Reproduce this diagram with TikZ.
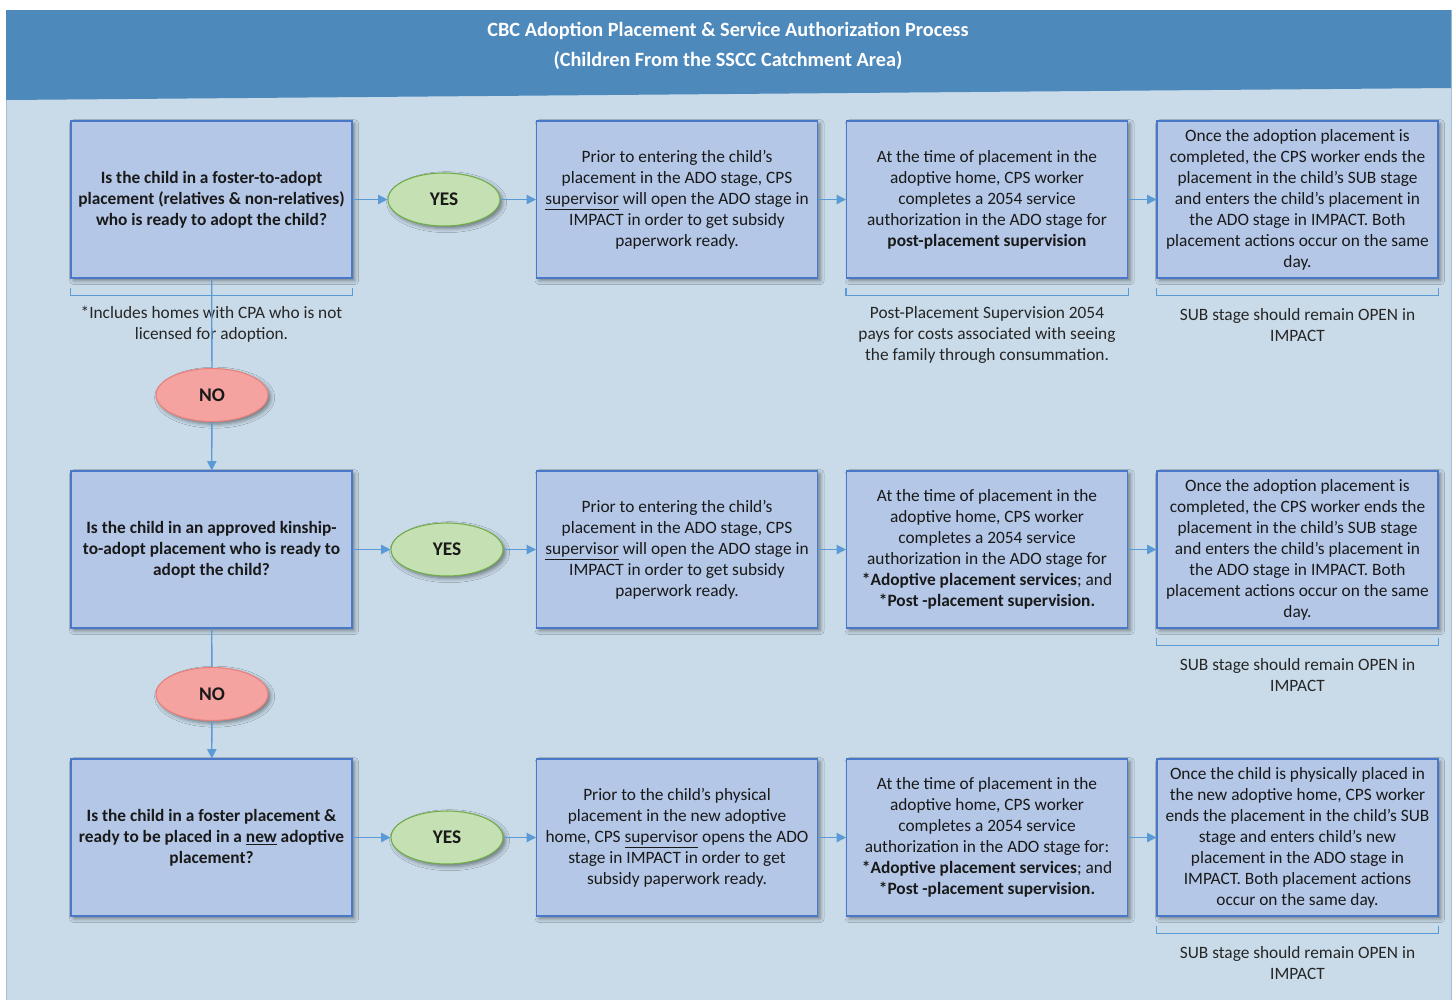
\documentclass[tikz,border=0pt]{standalone}
\usepackage{fontspec}
\setmainfont{Carlito}
\usetikzlibrary{arrows.meta,shapes.geometric,shadows.blur}

\definecolor{pagebg}{HTML}{C9DBE9}
\definecolor{pageline}{HTML}{A7BFD6}
\definecolor{headblue}{HTML}{4E89BC}
\definecolor{boxfill}{HTML}{B4C7E7}
\definecolor{boxline}{HTML}{4A78C8}
\definecolor{linkblue}{HTML}{5B9BD5}
\definecolor{yesfill}{HTML}{C5E0B3}
\definecolor{yesline}{HTML}{70AD47}
\definecolor{nofill}{HTML}{F4A3A0}
\definecolor{noline}{HTML}{E8807B}
\definecolor{notetext}{HTML}{262626}

\tikzset{
        boxshadow/.style={blur shadow={shadow xshift=2pt,shadow yshift=-2pt,shadow blur radius=3pt,shadow opacity=45}},
        stepbox/.style={draw=boxline,fill=boxfill,line width=0.8pt,minimum width=210.75pt,minimum height=117.75pt,
                inner sep=0pt,align=center,text=black!90,font=\fontsize{13}{15.75}\selectfont,boxshadow},
        askbox/.style={stepbox,font=\fontsize{13}{15.75}\selectfont\bfseries},
        answer/.style={ellipse,line width=0.8pt,minimum width=84pt,minimum height=39.75pt,inner sep=0pt,
                font=\fontsize{14.5}{16}\selectfont\bfseries,text=black!90,boxshadow},
        yesnode/.style={answer,draw=yesline,fill=yesfill},
        nonode/.style={answer,draw=noline,fill=nofill},
        link/.style={draw=linkblue,line width=1pt,-{Triangle[length=7pt,width=7pt]}},
        plainlink/.style={draw=linkblue,line width=1pt},
        bracket/.style={draw=linkblue,line width=0.8pt},
        note/.style={align=center,text=notetext,font=\fontsize{13}{15.75}\selectfont}
}

\begin{document}
\begin{tikzpicture}[x=0.75pt,y=-0.75pt]
        \useasboundingbox (0,0) rectangle (1455,1000);
        \fill[pagebg] (6,10) rectangle (1451,1000);
        \draw[pageline] (6,1000) -- (6,10) -- (1451,10) -- (1451,1000);
        \fill[headblue] (6,10) -- (1451,10) -- (1451,88) -- (6,100) -- cycle;
        \node[text=white,font=\fontsize{15.2}{22}\selectfont\bfseries,align=center] (title) at (728,46)
                {CBC Adoption Placement \& Service Authorization Process\\(Children From the SSCC Catchment Area)};

        % row 1
        \node[askbox] (q1) at (211.5,199.5) {Is the child in a foster-to-adopt\\placement (relatives \& non-relatives)\\who is ready to adopt the child?};
        \node[yesnode] (yes1) at (444,199.5) {YES};
        \node[stepbox] (open1) at (677,199.5) {Prior to entering the child’s\\placement in the ADO stage, CPS\\\underline{supervisor} will open the ADO stage in\\IMPACT in order to get subsidy\\paperwork ready.};
        \node[stepbox] (auth1) at (987,199.5) {At the time of placement in the\\adoptive home, CPS worker\\completes a 2054 service\\authorization in the ADO stage for\\\textbf{post-placement supervision}};
        \node[stepbox] (end1) at (1297.5,199.5) {Once the adoption placement is\\completed, the CPS worker ends the\\placement in the child’s SUB stage\\and enters the child’s placement in\\the ADO stage in IMPACT. Both\\placement actions occur on the same\\day.};
        \node[note] (cpa) at (211.5,324.5) {*Includes homes with CPA who is not\\licensed for adoption.};
        \node[note] (cost) at (987,335) {Post-Placement Supervision 2054\\pays for costs associated with seeing\\the family through consummation.};
        \node[note] (open1note) at (1297.5,325.5) {SUB stage should remain OPEN in\\IMPACT};
        \node[nonode] (no1) at (212,395) {NO};

        % row 2
        \node[askbox] (q2) at (211.5,549.5) {Is the child in an approved kinship-\\to-adopt placement who is ready to\\adopt the child?};
        \node[yesnode] (yes2) at (447,549.5) {YES};
        \node[stepbox] (open2) at (677,549.5) {Prior to entering the child’s\\placement in the ADO stage, CPS\\\underline{supervisor} will open the ADO stage in\\IMPACT in order to get subsidy\\paperwork ready.};
        \node[stepbox] (auth2) at (987,549.5) {At the time of placement in the\\adoptive home, CPS worker\\completes a 2054 service\\authorization in the ADO stage for\\\textbf{*Adoptive placement services}; and\\\textbf{*Post -placement supervision.}};
        \node[stepbox] (end2) at (1297.5,549.5) {Once the adoption placement is\\completed, the CPS worker ends the\\placement in the child’s SUB stage\\and enters the child’s placement in\\the ADO stage in IMPACT. Both\\placement actions occur on the same\\day.};
        \node[note] (open2note) at (1297.5,675.5) {SUB stage should remain OPEN in\\IMPACT};
        \node[nonode] (no2) at (212,694) {NO};

        % row 3
        \node[askbox] (q3) at (211.5,837.5) {Is the child in a foster placement \&\\ready to be placed in a \underline{new} adoptive\\placement?};
        \node[yesnode] (yes3) at (447,837.5) {YES};
        \node[stepbox] (open3) at (677,837.5) {Prior to the child’s physical\\placement in the new adoptive\\home, CPS \underline{supervisor} opens the ADO\\stage in IMPACT in order to get\\subsidy paperwork ready.};
        \node[stepbox] (auth3) at (987,837.5) {At the time of placement in the\\adoptive home, CPS worker\\completes a 2054 service\\authorization in the ADO stage for:\\\textbf{*Adoptive placement services}; and\\\textbf{*Post -placement supervision.}};
        \node[stepbox] (end3) at (1297.5,837.5) {Once the child is physically placed in\\the new adoptive home, CPS worker\\ends the placement in the child’s SUB\\stage and enters child’s new\\placement in the ADO stage in\\IMPACT. Both placement actions\\occur on the same day.};
        \node[note] (open3note) at (1297.5,963.5) {SUB stage should remain OPEN in\\IMPACT};

        \foreach \b in {q1,auth1,end1,end2,end3}
                \draw[bracket] ([yshift=-6.75pt]\b.south west) |- ([yshift=-12.75pt]\b.south east) -- ([yshift=-6.75pt]\b.south east);

        \foreach \i in {1,2,3}{
                \draw[link] (q\i) -- (yes\i);
                \draw[link] (yes\i) -- (open\i);
                \draw[link] (open\i) -- (auth\i);
                \draw[link] (auth\i) -- (end\i);
        }
        \draw[plainlink] (q1) -- (no1);
        \draw[link] (no1) -- (q2);
        \draw[plainlink] (q2) -- (no2);
        \draw[link] (no2) -- (q3);
\end{tikzpicture}
\end{document}
